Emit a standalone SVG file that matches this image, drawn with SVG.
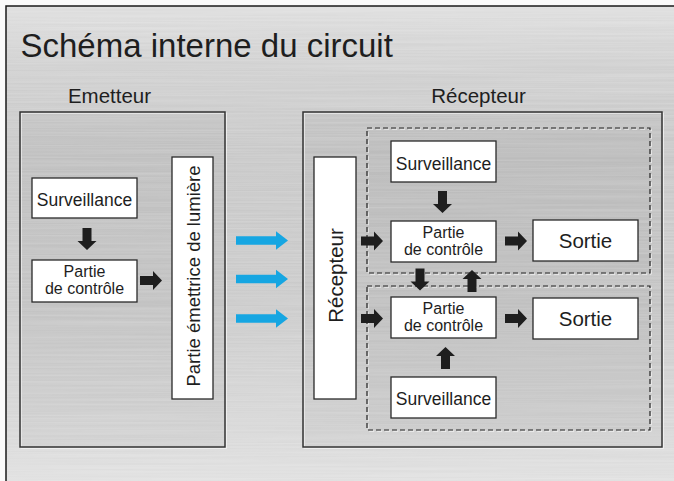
<svg xmlns="http://www.w3.org/2000/svg" width="674" height="481" viewBox="0 0 674 481">
  <defs>
    <linearGradient id="bg" x1="0" y1="0" x2="0" y2="1">
      <stop offset="0" stop-color="#dedede"/>
      <stop offset="0.12" stop-color="#d0d0d0"/>
      <stop offset="0.3" stop-color="#c8c8c8"/>
      <stop offset="0.6" stop-color="#cbcbcb"/>
      <stop offset="0.85" stop-color="#d8d8d8"/>
      <stop offset="1" stop-color="#e4e4e4"/>
    </linearGradient>
    <filter id="brush" x="0" y="0" width="1" height="1">
      <feTurbulence type="fractalNoise" baseFrequency="0.004 0.6" numOctaves="2" seed="3" result="n"/>
      <feColorMatrix in="n" type="matrix" values="0 0 0 0 1  0 0 0 0 1  0 0 0 0 1  0 0 0 0.35 -0.1"/>
    </filter>
    <path id="arr" d="M0,-4.5 H13 V-9.5 L22,0 L13,9.5 V4.5 H0 Z"/>
    <path id="blue" d="M0,-4.2 H40 V-9.3 L52,0 L40,9.3 V4.2 H0 Z"/>
    <style>
      .t { font-family: "Liberation Sans", Arial, Helvetica, sans-serif; fill: #1e1e1e; }
      .grp { fill: #000; fill-opacity: 0.035; stroke: #333; stroke-width: 1.5; }
      .hl { fill: none; stroke: #f4f4f4; stroke-width: 1.2; }
      .box { fill: #fff; stroke: #2a2a2a; stroke-width: 1.3; }
      .dash { fill: #000; fill-opacity: 0.02; stroke: #222; stroke-width: 1.2; stroke-dasharray: 5 3; }
      .dashhl { fill: none; stroke: #f4f4f4; stroke-width: 1; stroke-dasharray: 5 3; }
      .ar { fill: #1e1e1e; }
      .bl { fill: #16a6e2; }
    </style>
  </defs>

  <rect x="0" y="0" width="674" height="481" fill="#fafafa"/>
  <rect x="6" y="6" width="700" height="500" fill="url(#bg)"/>
  <rect x="6" y="6" width="700" height="500" fill="#fff" filter="url(#brush)"/>
  <rect x="6" y="6" width="700" height="500" fill="none" stroke="#1a1a1a" stroke-width="1.5"/>

  <text class="t" x="20.5" y="57" font-size="33">Schéma interne du circuit</text>

  <g id="emetteur">
    <text class="t" x="109.5" y="103" font-size="20.5" text-anchor="middle">Emetteur</text>
    <rect class="hl" x="21.2" y="113.2" width="205" height="335"/>
    <rect class="grp" x="20" y="112" width="205" height="335"/>
  </g>

  <g id="recepteur-groupe">
    <text class="t" x="478.5" y="103" font-size="20.5" text-anchor="middle">Récepteur</text>
    <rect class="hl" x="304.2" y="113.2" width="359" height="335"/>
    <rect class="grp" x="303" y="112" width="359" height="335"/>
  </g>

  <g id="dash-haut">
    <rect class="dashhl" x="368.2" y="129.2" width="283" height="145"/>
    <rect class="dash" x="367" y="128" width="283" height="145"/>
  </g>
  <g id="dash-bas">
    <rect class="dashhl" x="368.2" y="287.2" width="283" height="144"/>
    <rect class="dash" x="367" y="286" width="283" height="144"/>
  </g>

  <g id="e-surveillance">
    <rect class="box" x="32" y="178" width="105" height="40"/>
    <text class="t" x="84.5" y="206" font-size="17.5" text-anchor="middle">Surveillance</text>
  </g>
  <g id="e-controle">
    <rect class="box" x="32" y="260" width="105" height="42"/>
    <text class="t" x="84.5" y="276.5" font-size="16" text-anchor="middle">Partie</text>
    <text class="t" x="84.5" y="294" font-size="16" text-anchor="middle">de contrôle</text>
  </g>
  <g id="e-emettrice">
    <rect class="box" x="172" y="157" width="41" height="242"/>
    <text class="t" transform="translate(199.5,276) rotate(-90)" font-size="18.5" text-anchor="middle">Partie émettrice de lumière</text>
  </g>

  <g id="r-recepteur">
    <rect class="box" x="314" y="157" width="42" height="242"/>
    <text class="t" transform="translate(343,275.5) rotate(-90)" font-size="20.5" text-anchor="middle">Récepteur</text>
  </g>
  <g id="r-surveillance-1">
    <rect class="box" x="391" y="141" width="105" height="41"/>
    <text class="t" x="443.5" y="170" font-size="17.5" text-anchor="middle">Surveillance</text>
  </g>
  <g id="r-controle-1">
    <rect class="box" x="391" y="221" width="105" height="41"/>
    <text class="t" x="443.5" y="238" font-size="16" text-anchor="middle">Partie</text>
    <text class="t" x="443.5" y="255" font-size="16" text-anchor="middle">de contrôle</text>
  </g>
  <g id="r-sortie-1">
    <rect class="box" x="533" y="220" width="105" height="41"/>
    <text class="t" x="585.5" y="248" font-size="20.5" text-anchor="middle">Sortie</text>
  </g>
  <g id="r-controle-2">
    <rect class="box" x="391" y="297" width="105" height="41"/>
    <text class="t" x="443.5" y="314" font-size="16" text-anchor="middle">Partie</text>
    <text class="t" x="443.5" y="331" font-size="16" text-anchor="middle">de contrôle</text>
  </g>
  <g id="r-sortie-2">
    <rect class="box" x="533" y="298" width="105" height="41"/>
    <text class="t" x="585.5" y="326" font-size="20.5" text-anchor="middle">Sortie</text>
  </g>
  <g id="r-surveillance-2">
    <rect class="box" x="391" y="377" width="105" height="41"/>
    <text class="t" x="443.5" y="405" font-size="17.5" text-anchor="middle">Surveillance</text>
  </g>

  <g id="connectors">
    <use href="#arr" class="ar" transform="translate(87,228) rotate(90)"/>
    <use href="#arr" class="ar" transform="translate(140,280.5)"/>
    <use href="#blue" class="bl" transform="translate(236,240.5)"/>
    <use href="#blue" class="bl" transform="translate(236,279)"/>
    <use href="#blue" class="bl" transform="translate(236,318.5)"/>
    <use href="#arr" class="ar" transform="translate(361,241)"/>
    <use href="#arr" class="ar" transform="translate(442.5,191) rotate(90)"/>
    <use href="#arr" class="ar" transform="translate(505,241)"/>
    <use href="#arr" class="ar" transform="translate(420,268.5) rotate(90)"/>
    <use href="#arr" class="ar" transform="translate(472,292) rotate(-90)"/>
    <use href="#arr" class="ar" transform="translate(361,318.5)"/>
    <use href="#arr" class="ar" transform="translate(505,318.5)"/>
    <use href="#arr" class="ar" transform="translate(445.5,369) rotate(-90)"/>
  </g>
</svg>
